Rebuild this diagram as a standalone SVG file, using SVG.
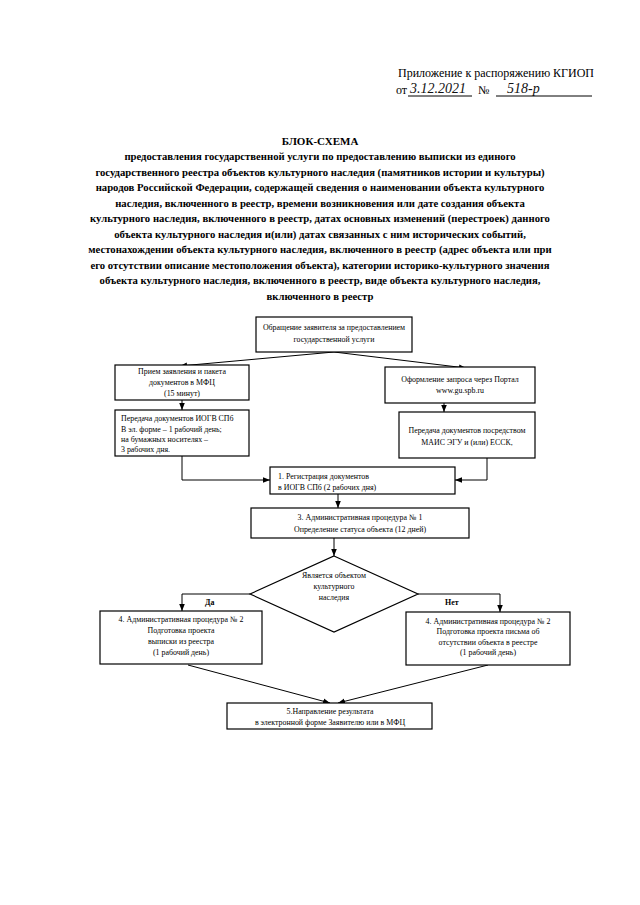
<svg xmlns="http://www.w3.org/2000/svg" width="640" height="905" viewBox="0 0 640 905">
<defs>
<style>
.t{font-family:"Liberation Serif","Times New Roman",serif;fill:#000}
.h{font-size:12px}
.ti{font-size:10.7px;font-weight:bold;text-anchor:middle}
.b{font-size:7.9px}
.c{text-anchor:middle}
.hw{font-family:"Liberation Serif",serif;font-style:italic;font-size:14px;fill:#111}
.box{fill:#fff;stroke:#000;stroke-width:1.2}
.ln{fill:none;stroke:#000;stroke-width:1}
</style>
<marker id="ar" viewBox="0 0 10 10" refX="10" refY="5" markerWidth="7" markerHeight="7" orient="auto" markerUnits="userSpaceOnUse">
<path d="M0,1 L10,5 L0,9 z" fill="#000"/>
</marker>
</defs>
<rect width="640" height="905" fill="#fff"/>

<g id="header">
<text class="t h" x="398" y="77">Приложение к распоряжению КГИОП</text>
<text class="t h" x="396" y="94">от</text>
<text class="hw" x="410" y="93">3.12.2021</text>
<line class="ln" x1="408" y1="96" x2="472" y2="96"/>
<text class="t h" x="478" y="94">№</text>
<text class="hw" x="507" y="93">518-р</text>
<line class="ln" x1="496" y1="96" x2="592" y2="96"/>
</g>

<g id="title">
<text class="t ti" x="320" y="145" style="font-size:11px">БЛОК-СХЕМА</text>
<text class="t ti" x="320" y="160">предоставления государственной услуги по предоставлению выписки из единого</text>
<text class="t ti" x="320" y="176">государственного реестра объектов культурного наследия (памятников истории и культуры)</text>
<text class="t ti" x="320" y="191">народов Российской Федерации, содержащей сведения о наименовании объекта культурного</text>
<text class="t ti" x="320" y="207">наследия, включенного в реестр, времени возникновения или дате создания объекта</text>
<text class="t ti" x="320" y="222">культурного наследия, включенного в реестр, датах основных изменений (перестроек) данного</text>
<text class="t ti" x="320" y="238">объекта культурного наследия и(или) датах связанных с ним исторических событий,</text>
<text class="t ti" x="320" y="253">местонахождении объекта культурного наследия, включенного в реестр (адрес объекта или при</text>
<text class="t ti" x="320" y="269">его отсутствии описание местоположения объекта), категории историко-культурного значения</text>
<text class="t ti" x="320" y="284">объекта культурного наследия, включенного в реестр, виде объекта культурного наследия,</text>
<text class="t ti" x="320" y="300">включенного в реестр</text>
</g>

<g id="connectors">
<line class="ln" x1="334" y1="352" x2="180" y2="366" marker-end="url(#ar)"/>
<line class="ln" x1="334" y1="352" x2="466" y2="368" marker-end="url(#ar)"/>
<line class="ln" x1="182" y1="400" x2="182" y2="410" marker-end="url(#ar)"/>
<line class="ln" x1="444" y1="403" x2="444" y2="412" marker-end="url(#ar)"/>
<polyline class="ln" points="182,456 182,480 270,480" marker-end="url(#ar)"/>
<polyline class="ln" points="487,458 487,480 455,480" marker-end="url(#ar)"/>
<line class="ln" x1="338" y1="494" x2="338" y2="508" marker-end="url(#ar)"/>
<line class="ln" x1="334" y1="538" x2="334" y2="556" marker-end="url(#ar)"/>
<polyline class="ln" points="250,594 182,594 182,611" marker-end="url(#ar)"/>
<polyline class="ln" points="418,594 500,594 500,612" marker-end="url(#ar)"/>
<line class="ln" x1="188" y1="665" x2="330" y2="703" marker-end="url(#ar)"/>
<line class="ln" x1="488" y1="665" x2="338" y2="703" marker-end="url(#ar)"/>
<text class="t b" x="205" y="605" style="font-weight:bold">Да</text>
<text class="t b" x="445" y="605" style="font-weight:bold">Нет</text>
</g>

<g id="n1">
<rect class="box" x="256" y="317" width="156" height="35"/>
<text class="t b c" x="334" y="330">Обращение заявителя за предоставлением</text>
<text class="t b c" x="334" y="342">государственной услуги</text>
</g>

<g id="n2">
<rect class="box" x="115" y="365" width="134" height="35"/>
<text class="t b c" x="182" y="374">Прием заявления и пакета</text>
<text class="t b c" x="182" y="385">документов в МФЦ</text>
<text class="t b c" x="182" y="396">(15 минут)</text>
</g>

<g id="n3">
<rect class="box" x="385" y="367" width="150" height="36"/>
<text class="t b c" x="460" y="382">Оформление запроса через Портал</text>
<text class="t b c" x="460" y="393">www.gu.spb.ru</text>
</g>

<g id="n4">
<rect class="box" x="115" y="410" width="134" height="46"/>
<text class="t b" x="121" y="421">Передача документов ИОГВ СПб</text>
<text class="t b" x="121" y="432">В эл. форме – 1 рабочий день;</text>
<text class="t b" x="121" y="442">на бумажных носителях –</text>
<text class="t b" x="121" y="452">3 рабочих дня.</text>
</g>

<g id="n5">
<rect class="box" x="399" y="412" width="136" height="46"/>
<text class="t b c" x="467" y="433">Передача документов посредством</text>
<text class="t b c" x="467" y="445">МАИС ЭГУ и (или) ЕССК,</text>
</g>

<g id="n6">
<rect class="box" x="270" y="467" width="185" height="27"/>
<text class="t b" x="278" y="479">1. Регистрация документов</text>
<text class="t b" x="278" y="490">в ИОГВ СПб (2 рабочих дня)</text>
</g>

<g id="n7">
<rect class="box" x="251" y="508" width="218" height="30"/>
<text class="t b c" x="360" y="520">3. Административная процедура № 1</text>
<text class="t b c" x="360" y="532">Определение статуса объекта (12 дней)</text>
</g>

<g id="n8">
<polygon class="box" points="334,556 418,594 334,632 250,594"/>
<text class="t b c" x="334" y="578">Является объектом</text>
<text class="t b c" x="334" y="589">культурного</text>
<text class="t b c" x="334" y="600">наследия</text>
</g>

<g id="n9">
<rect class="box" x="100" y="611" width="162" height="53"/>
<text class="t b c" x="181" y="622">4. Административная процедура № 2</text>
<text class="t b c" x="181" y="633">Подготовка проекта</text>
<text class="t b c" x="181" y="644">выписки из реестра</text>
<text class="t b c" x="181" y="655">(1 рабочий день)</text>
</g>

<g id="n10">
<rect class="box" x="406" y="612" width="164" height="53"/>
<text class="t b c" x="488" y="624">4. Административная процедура № 2</text>
<text class="t b c" x="488" y="634">Подготовка проекта письма об</text>
<text class="t b c" x="488" y="645">отсутствии объекта в реестре</text>
<text class="t b c" x="488" y="655">(1 рабочий день)</text>
</g>

<g id="n11">
<rect class="box" x="227" y="703" width="205" height="26"/>
<text class="t b c" x="330" y="714">5.Направление результата</text>
<text class="t b c" x="330" y="725">в электронной форме Заявителю или в МФЦ</text>
</g>
</svg>
